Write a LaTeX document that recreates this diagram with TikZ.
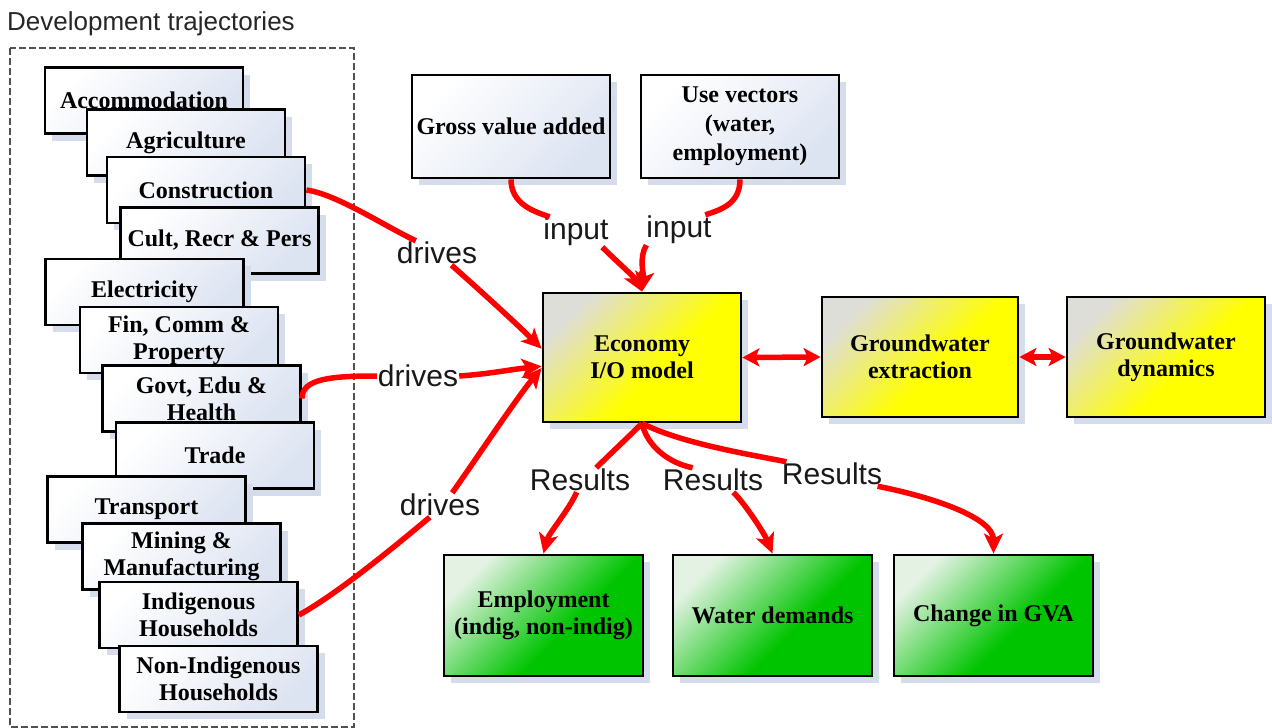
\documentclass[tikz,border=0pt]{standalone}
\usepackage{fontspec}
\setmainfont{Liberation Serif}
\setsansfont{Liberation Sans}
\usetikzlibrary{arrows.meta,shadows,calc}
\definecolor{shadowc}{HTML}{D5DCEC}
\definecolor{lboxb}{HTML}{DCE3F1}
\definecolor{ylw}{HTML}{FFFF00}
\definecolor{ylwl}{HTML}{DEDED8}
\definecolor{grn}{HTML}{00C400}
\definecolor{grnl}{HTML}{E4F2E4}
\definecolor{arr}{HTML}{FF0000}
\definecolor{dashc}{HTML}{505050}
\pgfdeclareverticalshading{yshade}{100bp}{color(0bp)=(ylw); color(25bp)=(ylw); color(44bp)=(ylw); color(75bp)=(ylwl); color(100bp)=(ylwl)}
\pgfdeclareverticalshading{gshade}{100bp}{color(0bp)=(grn); color(25bp)=(grn); color(42bp)=(grn); color(75bp)=(grnl); color(100bp)=(grnl)}
\pgfdeclareverticalshading{lshade}{100bp}{color(0bp)=(lboxb); color(25bp)=(lboxb); color(75bp)=(white); color(100bp)=(white)}
\begin{document}
\begin{tikzpicture}[x=1pt,y=-1pt,
  box/.style={draw=black, line width=2.8pt, align=center, inner sep=0pt,
    font=\fontsize{24}{27}\selectfont\bfseries,
    drop shadow={shadow xshift=7pt, shadow yshift=-7pt, fill=shadowc, opacity=1}},
  lbox/.style={box, minimum width=198pt, minimum height=66pt,
    shading=lshade, shading angle=45},
  ybox/.style={box, shading=yshade, shading angle=45},
  gbox/.style={box, minimum width=199pt, minimum height=121pt,
    shading=gshade, shading angle=45},
  lbl/.style={font=\sffamily\fontsize{30}{30}\selectfont, inner sep=1pt, text=black!90},
  conn/.style={draw=arr, line width=5.5pt},
  tip/.style={-{Stealth[length=20pt,width=19pt,inset=5pt]}},
  dtip/.style={{Stealth[length=17pt,width=18pt,inset=4pt]}-{Stealth[length=17pt,width=18pt,inset=4pt]}}
]
\useasboundingbox (0,0) rectangle (1272,728);
\fill[white] (0,0) rectangle (1272,728);

% container
\draw[dashc, line width=1.2pt, dash pattern=on 7pt off 3pt] (10,48) rectangle (354,727);
\node[anchor=base west, inner sep=0pt, font=\sffamily\fontsize{26}{26}\selectfont, text=black!85] (title) at (7,30) {Development trajectories};

% sectors
\node[lbox] (acc) at (144,100.5) {Accommodation};
\node[lbox] (agr) at (186,142.5) {Agriculture};
\node[lbox] (con) at (206,190) {Construction};
\node[lbox] (cul) at (219.5,240.5) {Cult, Recr \& Pers};
\node[lbox] (ele) at (144.5,292) {Electricity};
\node[lbox] (fin) at (179,340) {Fin, Comm \&\\Property};
\node[lbox] (gov) at (201.5,398.5) {Govt, Edu \&\\Health};
\node[lbox] (tra) at (215,455.5) {Trade};
\node[lbox] (trn) at (146.5,509.5) {Transport};
\node[lbox] (min) at (181.5,556.5) {Mining \&\\Manufacturing};
\node[lbox] (ind) at (198.5,615) {Indigenous\\Households};
\node[lbox] (non) at (218.5,679) {Non-Indigenous\\Households};

% inputs
\node[lbox, minimum height=103pt] (gva) at (511,126.5) {Gross value added};
\node[lbox, minimum height=103pt] (use) at (740,126.5) {Use vectors\\[2pt](water,\\[2pt]employment)};

% models
\node[ybox, minimum width=198pt, minimum height=129pt] (eco) at (642,357.5) {Economy\\I/O model};
\node[ybox, minimum width=196pt, minimum height=120pt] (gwe) at (920,357) {Groundwater\\extraction};
\node[ybox, minimum width=198pt, minimum height=120pt] (gwd) at (1166,357) {Groundwater\\dynamics};

% results
\node[gbox] (emp) at (543.5,615.5) {Employment\\(indig, non-indig)};
\node[gbox] (wat) at (772.5,615.5) {Water demands};
\node[gbox] (chg) at (993.5,615.5) {Change in GVA};

% labels
\node[lbl] (dr1) at (437,253) {drives};
\node[lbl] (dr2) at (418,376) {drives};
\node[lbl] (dr3) at (440,505) {drives};
\node[lbl] (in1) at (576,232) {input};
\node[lbl] (in2) at (679,230) {input};
\node[lbl] (r1) at (580,480) {Results};
\node[lbl] (r2) at (713,480) {Results};
\node[lbl] (r3) at (832,474) {Results};

% connectors
\draw[conn] (con.east) .. controls +(30,4) and +(-30,-14) .. (dr1.150);
\draw[conn,tip] (dr1.-40) .. controls +(25,22) and +(-25,-25) .. (eco.175);
\draw[conn] (gov.east) .. controls +(0,-20) and +(-45,0) .. (dr2.west);
\draw[conn,tip] (dr2.east) .. controls +(30,-2) and +(-30,3) .. (eco.185);
\draw[conn] (ind.east) .. controls +(40,-22) and +(-30,25) .. (dr3.-130);
\draw[conn,tip] (dr3.45) .. controls +(20,-28) and +(-25,30) .. (eco.186);

\draw[conn] (gva.south) .. controls +(0,25) and +(-15,-5) .. (in1.150);
\draw[conn,tip] (in1.-30) .. controls +(12,12) and +(-8,-15) .. (eco.north);
\draw[conn] (use.south) .. controls +(0,25) and +(15,-5) .. (in2.30);
\draw[conn,tip] (in2.-155) .. controls +(-8,12) and +(2,-15) .. (eco.north);

\draw[conn] (eco.south) .. controls +(-12,12) and +(10,-10) .. (r1.37);
\draw[conn,tip] (r1.-105) .. controls +(-8,18) and +(5,-20) .. (emp.north);
\draw[conn] (eco.south) .. controls +(5,22) and +(-25,-5) .. (r2.149);
\draw[conn,tip] (r2.-31) .. controls +(12,12) and +(-8,-20) .. (wat.north);
\draw[conn] (eco.south) .. controls +(40,20) and +(-40,-8) .. (r3.165);
\draw[conn,tip] (r3.-15) .. controls +(60,12) and +(0,-35) .. (chg.north);

\draw[conn,dtip] (eco.east) -- (gwe.west);
\draw[conn,dtip] (gwe.east) -- (gwd.west);
\end{tikzpicture}
\end{document}
